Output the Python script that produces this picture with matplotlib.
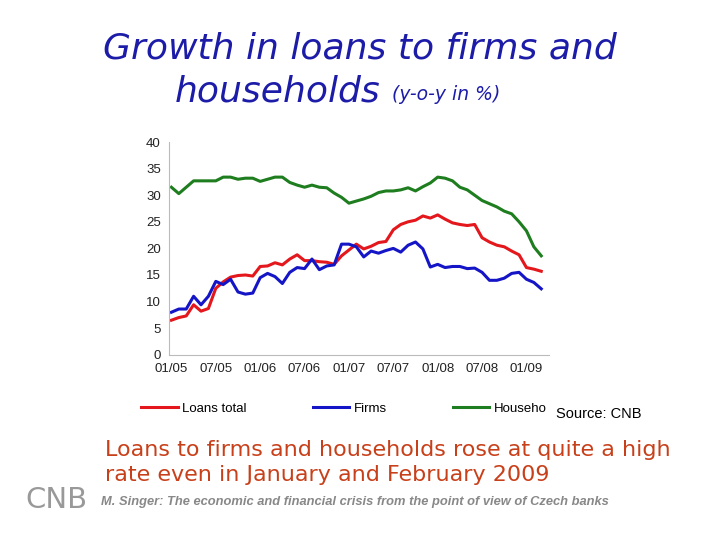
import matplotlib.pyplot as plt

months = list(range(51))
tick_pos = [0, 6, 12, 18, 24, 30, 36, 42, 48]
tick_labels = ["01/05", "07/05", "01/06", "07/06", "01/07", "07/07", "01/08", "07/08", "01/09"]

loans_total = [6.5, 7.0, 7.3, 9.4, 8.2, 8.7, 12.5, 13.7, 14.6, 14.9, 15.0, 14.8, 16.6, 16.7,
               17.3, 16.9, 18.0, 18.8, 17.7, 17.7, 17.5, 17.4, 17.0, 18.6, 19.7, 20.8, 19.9,
               20.4, 21.1, 21.3, 23.5, 24.5, 25.0, 25.3, 26.1, 25.7, 26.3, 25.5, 24.8, 24.5,
               24.3, 24.5, 22.0, 21.2, 20.6, 20.3, 19.5, 18.8, 16.4, 16.1, 15.7]
firms = [8.0, 8.6, 8.6, 11.0, 9.4, 11.0, 13.8, 13.2, 14.2, 11.8, 11.4, 11.6, 14.5, 15.3,
         14.7, 13.4, 15.5, 16.4, 16.2, 18.0, 16.0, 16.7, 16.9, 20.8, 20.8, 20.3, 18.4, 19.5,
         19.1, 19.6, 20.0, 19.3, 20.6, 21.2, 19.9, 16.5, 17.0, 16.4, 16.6, 16.6, 16.2, 16.3,
         15.5, 14.0, 14.0, 14.4, 15.3, 15.5, 14.2, 13.6, 12.4]
households = [31.5, 30.3, 31.5, 32.7, 32.7, 32.7, 32.7, 33.4, 33.4, 33.0, 33.2, 33.2, 32.6,
              33.0, 33.4, 33.4, 32.4, 31.9, 31.5, 31.9, 31.5, 31.4, 30.4, 29.6, 28.5, 28.9,
              29.3, 29.8, 30.5, 30.8, 30.8, 31.0, 31.4, 30.8, 31.6, 32.3, 33.4, 33.2, 32.7,
              31.5, 31.0, 30.0, 29.0, 28.4, 27.8, 27.0, 26.5, 25.0, 23.3, 20.3, 18.6]

fig = plt.figure(figsize=(7.2, 5.4), dpi=100)
ax = fig.add_axes([0.235, 0.343, 0.527, 0.394])

ax.plot(months, loans_total, color="#e3171c", lw=2.2, label="Loans total")
ax.plot(months, firms, color="#1515c8", lw=2.2, label="Firms")
ax.plot(months, households, color="#1e7d1e", lw=2.2, label="Househo")

ax.set_ylim(0, 40)
ax.set_yticks(range(0, 41, 5))
ax.set_xlim(-0.3, 51)
ax.set_xticks(tick_pos)
ax.set_xticklabels(tick_labels)
for s in ["top", "right"]:
    ax.spines[s].set_visible(False)
for s in ["left", "bottom"]:
    ax.spines[s].set_color("#bbbbbb")
ax.tick_params(length=0, labelsize=9.5, pad=6, labelcolor="#222222")
for t in ax.get_xticklabels() + ax.get_yticklabels():
    t.set_family("Liberation Sans")

ax.legend(loc="upper center", bbox_to_anchor=(0.46, -0.17), ncol=3, frameon=False,
          prop={"family": "Liberation Sans", "size": 9.5}, handlelength=2.8,
          columnspacing=5.0, handletextpad=0.3)

title_color = "#1c1ca8"
fig.text(0.5, 0.91, "Growth in loans to firms and", ha="center", va="center",
         fontsize=26, style="italic", color=title_color)
fig.text(0.243, 0.83, "households", ha="left", va="center",
         fontsize=26, style="italic", color=title_color)
fig.text(0.545, 0.825, "(y-o-y in %)", ha="left", va="center",
         fontsize=13.5, style="italic", color=title_color)

fig.text(0.772, 0.233, "Source: CNB", fontsize=10.5, family="Liberation Sans", va="center")

fig.text(0.146, 0.167, "Loans to firms and households rose at quite a high", fontsize=16,
         color="#c8401a", va="center")
fig.text(0.146, 0.12, "rate even in January and February 2009", fontsize=16,
         color="#c8401a", va="center")
fig.text(0.14, 0.07, "M. Singer: The economic and financial crisis from the point of view of Czech banks",
         fontsize=9.3, style="italic", weight="bold", color="#888888",
         family="Liberation Sans", va="center")
fig.text(0.035, 0.075, "CNB", fontsize=21, color="#999999", family="Liberation Sans Narrow",
         va="center")

fig.savefig("out.png", dpi=100)
